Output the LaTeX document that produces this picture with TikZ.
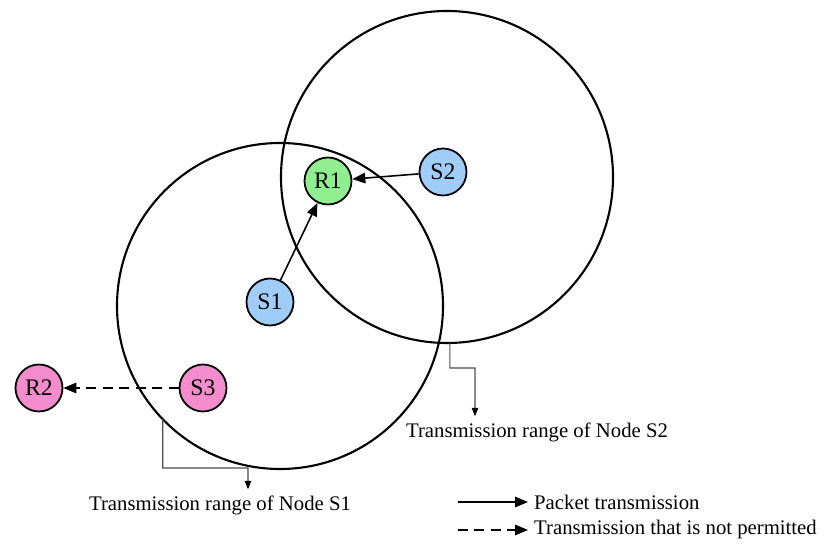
\documentclass[tikz,border=0pt]{standalone}
\usepackage{fontspec}
\setmainfont{Liberation Serif}
\usetikzlibrary{arrows.meta}
\definecolor{nodeblue}{RGB}{160,204,248}
\definecolor{nodegreen}{RGB}{144,238,144}
\definecolor{nodepink}{RGB}{242,140,204}

\begin{document}
\begin{tikzpicture}[x=0.02cm, y=0.02cm]
\useasboundingbox (0,0) rectangle (833,548);
%------------------------------------------------------------------------------------------------
% styles

    \tikzset{station/.style={circle, draw, line width=1pt, minimum size=0.94cm,
            inner sep=0pt, font=\fontsize{13.5}{15}\selectfont},
        txrange/.style={line width=1.2pt},
        callout/.style={draw=black!70, line width=0.6pt,
            -{Triangle[length=1.7mm, width=1.3mm, color=black]}},
        packet/.style={line width=0.9pt, -{Triangle[length=2.6mm, width=2.1mm]}},
        blocked/.style={packet, dash pattern=on 2mm off 1.3mm},
        legtext/.style={font=\fontsize{11.8}{14}\selectfont}
    }
%------------------------------------------------------------------------------------------------
% transmission ranges
\draw[txrange] (280,242) coordinate(c1) circle[radius=163];
\draw[txrange] (447,371) coordinate(c2) circle[radius=166];

% stations
\foreach \name/\x/\y/\col in {R1/328/367/nodegreen, S2/443/376/nodeblue,
    S1/270/246/nodeblue, S3/203/160/nodepink, R2/39/160/nodepink} {
    \node[station, fill=\col] (\name) at (\x,\y) {\name};
}

\draw[packet] (S2) -- (R1);
\draw[packet] (S1) -- (R1);
\draw[blocked] (S3) -- (R2);

% range labels
\node[legtext] (txtS1) at (220,43) {Transmission range of Node S1};
\node[legtext] (txtS2) at (537,116) {Transmission range of Node S2};
\draw[callout] (c1) ++(224:163) coordinate(rng1) |- (248,80) -- ([xshift=0.56cm]txtS1.north);
\draw[callout] (c2) ++(271:166) coordinate(rng2) |- (475,180) -- ([xshift=-1.24cm]txtS2.north);

% legend
\node[legtext, right] (legOk) at (528,46) {Packet transmission};
\node[legtext, right] (legNo) at (528,18) {Transmission that is not permitted};
\draw[packet] (458,46) coordinate(leg1) -- (legOk.west);
\draw[blocked] (458,18) coordinate(leg2) -- (legNo.west);

\end{tikzpicture}
\end{document}
